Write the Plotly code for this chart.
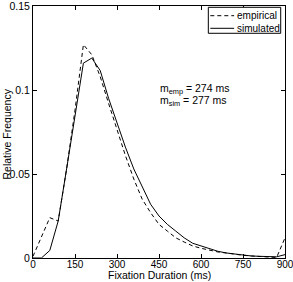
import plotly.graph_objects as go

# Data
x_emp = [0, 30, 60, 90, 120, 150, 180, 210, 240, 270, 300, 330, 360, 390, 420, 450,
         480, 510, 540, 570, 600, 630, 660, 690, 720, 750, 780, 810, 840, 870, 900]
y_emp = [0.001, 0.012, 0.024, 0.022, 0.053, 0.088, 0.127, 0.121, 0.108, 0.092, 0.076,
         0.061, 0.047, 0.035, 0.027, 0.020, 0.016, 0.012, 0.0095, 0.0072, 0.0058,
         0.0045, 0.0036, 0.003, 0.0022, 0.0016, 0.0012, 0.0010, 0.0008, 0.0003, 0.012]

x_sim = [0, 30, 60, 90, 120, 150, 180, 210, 240, 270, 300, 330, 360, 390, 420, 450,
         480, 510, 540, 570, 600, 630, 660, 690, 720, 750, 780, 810, 840, 870, 900]
y_sim = [0.0, 0.0, 0.0045, 0.022, 0.053, 0.085, 0.116, 0.119, 0.1116, 0.095, 0.080,
         0.066, 0.053, 0.042, 0.032, 0.025, 0.020, 0.016, 0.012, 0.0088, 0.0072,
         0.0055, 0.0040, 0.0030, 0.0023, 0.0018, 0.0012, 0.0010, 0.0008, 0.0007, 0.002]

series_names = ["empirical", "simulated"]
x_ticks = [0, 150, 300, 450, 600, 750, 900]
y_ticks = [0, 0.05, 0.1, 0.15]
y_tick_text = ["0", "0.05", "0.1", "0.15"]

FONT = "Liberation Sans, Arial, sans-serif"
DASH = "4px,3px"

fig = go.Figure()
fig.add_trace(go.Scatter(x=x_emp, y=y_emp, mode="lines", name=series_names[0],
                         line=dict(color="black", width=1, dash=DASH)))
fig.add_trace(go.Scatter(x=x_sim, y=y_sim, mode="lines", name=series_names[1],
                         line=dict(color="black", width=1)))

axis_common = dict(showline=True, linecolor="black", linewidth=1, mirror="ticks",
                   ticks="inside", ticklen=4, tickcolor="black", tickwidth=1,
                   showgrid=False, zeroline=False, ticklabeloverflow="allow",
                   automargin=False)

fig.update_xaxes(range=[0, 900], tickvals=x_ticks, ticklabelstandoff=-3,
                 tickfont=dict(family=FONT, size=10, color="black"), **axis_common)
fig.update_yaxes(range=[0, 0.15], tickvals=y_ticks, ticktext=y_tick_text,
                 tickfont=dict(family=FONT, size=10.5, color="black"), **axis_common)

fig.add_annotation(text="Fixation Duration (ms)", xref="paper", yref="paper", x=0.5,
                   y=-0.0694, xanchor="center", yanchor="middle", showarrow=False,
                   borderpad=0, font=dict(family=FONT, size=10.5, color="black"))
fig.add_annotation(text="Relative Frequency", xref="paper", yref="paper", x=0, y=0.49,
                   xanchor="center", yanchor="middle", xshift=-26, textangle=-90,
                   borderpad=0, showarrow=False,
                   font=dict(family=FONT, size=10.5, color="black"))
fig.add_annotation(text="m<sub>emp</sub> = 274 ms", xref="x", yref="y", x=445, y=0.1006,
                   xanchor="left", yanchor="middle", showarrow=False,
                   font=dict(family=FONT, size=10.5, color="black"))
fig.add_annotation(text="m<sub>sim</sub> = 277 ms", xref="x", yref="y", x=445, y=0.0935,
                   xanchor="left", yanchor="middle", showarrow=False,
                   font=dict(family=FONT, size=10.5, color="black"))

# Compact MATLAB-style legend box (drawn manually; plotly's legend rows are taller)
fig.add_shape(type="rect", xref="paper", yref="paper", x0=0.6957, x1=0.983,
              y0=0.8917, y1=0.9948, line=dict(color="black", width=1), fillcolor="white",
              layer="above")
legend_rows_y = [0.9615, 0.9115]
legend_dash = [DASH, "solid"]
for name, yy, dsh in zip(series_names, legend_rows_y, legend_dash):
    fig.add_shape(type="line", xref="paper", yref="paper", x0=0.7036, x1=0.798,
                  y0=yy, y1=yy, line=dict(color="black", width=1, dash=dsh), layer="above")
    fig.add_annotation(text=name, xref="paper", yref="paper", x=0.800, y=yy,
                       xanchor="left", yanchor="middle", showarrow=False,
                       font=dict(family=FONT, size=10, color="black"))

fig.update_layout(
    width=293, height=282,
    margin=dict(l=33, r=8, t=6, b=24),
    paper_bgcolor="white", plot_bgcolor="white",
    showlegend=False,
)

fig.write_html("out.html")
